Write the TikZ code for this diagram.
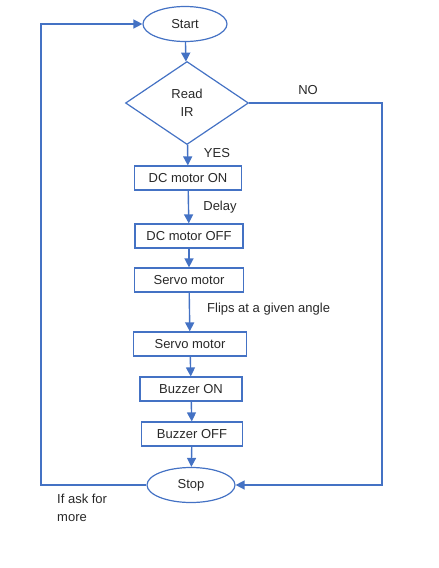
\documentclass[tikz,border=0pt]{standalone}
\usepackage{fontspec}
\setmainfont{Liberation Sans}
\usetikzlibrary{shapes,arrows.meta}
\definecolor{flowblue}{RGB}{68,114,196}
\definecolor{flowtext}{RGB}{40,40,40}

\tikzset{
	term/.style={ellipse, draw=flowblue, line width=1.2pt, minimum width=84pt, minimum height=35pt, inner sep=0pt},
	decide/.style={diamond, draw=flowblue, line width=1.2pt, minimum width=123pt, minimum height=83pt, inner sep=0pt, align=center},
	proc/.style={rectangle, draw=flowblue, line width=1.2pt, minimum height=24pt, inner sep=0pt},
	link/.style={draw=flowblue, line width=1.4pt, -{Triangle[length=9pt,width=9pt]}},
	note/.style={text=flowtext, inner sep=0pt}
}

\begin{document}
\begin{tikzpicture}[x=1pt, y=-1pt, font=\fontsize{13}{18}\selectfont, text=flowtext]
	\useasboundingbox (0,0) rectangle (439,568);
	
	% left and right loop lines
	\coordinate (loopl) at (41,0);
	\coordinate (loopr) at (382,0);
	
	% start and decision
	\node[term] (start) at (185,24) {Start};
	\node[decide] (read) at (187,103) {Read\\IR};
	
	% process boxes
	\node[proc, minimum width=107pt] (dcon) at (188,178) {DC motor ON};
	\node[proc, minimum width=108pt] (dcoff) at (189,236) {DC motor OFF};
	\node[proc, minimum width=109pt] (servoa) at (189,280) {Servo motor};
	\node[proc, minimum width=113pt] (servob) at (190,344) {Servo motor};
	\node[proc, minimum width=102pt] (buzon) at (191,389) {Buzzer ON};
	\node[proc, minimum width=101pt] (buzoff) at (192,434) {Buzzer OFF};
	
	% stop
	\node[term, minimum width=88pt] (stop) at (191,485) {Stop};
	
	% arrows down the chain
	\draw[link] (start) -- (read);
	\draw[link] (read) -- (dcon);
	\draw[link] (dcon) -- (dcoff);
	\draw[link] (dcoff) -- (servoa);
	\draw[link] (servoa) -- (servob);
	\draw[link] (servob) -- (buzon);
	\draw[link] (buzon) -- (buzoff);
	\draw[link] (buzoff) -- (stop);
	
	% NO branch and repeat loop
	\draw[link] (read.east) -- (read.east -| loopr) |- (stop.east);
	\draw[link] (stop.west) -- (stop.west -| loopl) |- (start.west);
	
	% labels
	\node[note] (yes) at (217,153) {YES};
	\node[note] (no) at (308,90) {NO};
	\node[note] (delay) at (220,207) {Delay};
	\node[note, anchor=west] (flips) at (207,309) {Flips at a given angle};
	\node[note, anchor=north west, align=left] (more) at (57,494) {If ask for\\more};
\end{tikzpicture}
\end{document}
